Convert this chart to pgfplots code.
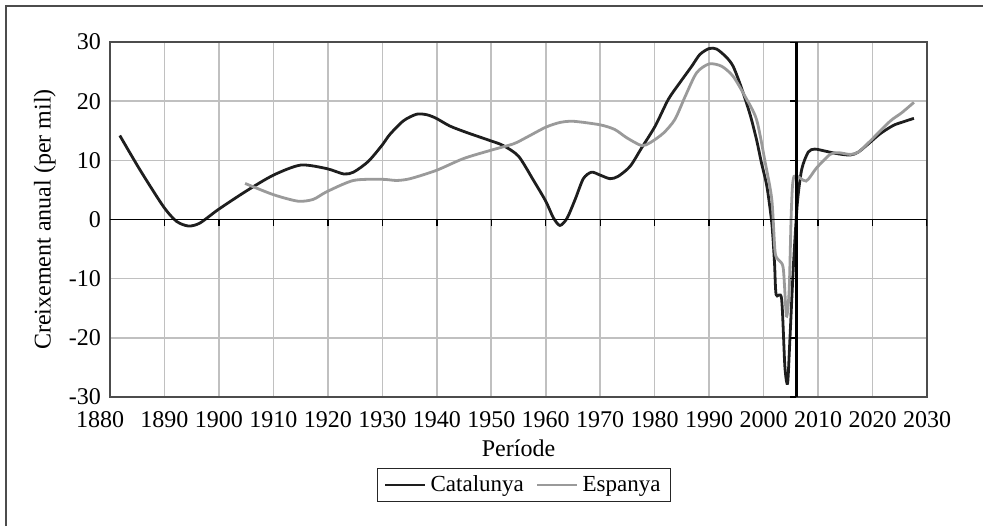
\documentclass[border=0pt]{standalone}
\usepackage{pgfplots}
\pgfplotsset{compat=1.18}
\usepackage{fontspec}
\setmainfont{Liberation Serif}
\definecolor{catc}{HTML}{1E1E1E}
\definecolor{espc}{HTML}{9A9A9A}
\definecolor{gridc}{HTML}{C0C0C0}
\begin{document}
\begin{tikzpicture}
\useasboundingbox (0,0) rectangle (491.5pt,263pt);
\draw[black!70, line width=1pt] (3pt,0) -- (3pt,259.8pt) -- (491.5pt,259.8pt);
\begin{axis}[
  at={(55pt,64.5pt)}, anchor=south west,
  scale only axis, width=408.5pt, height=177.5pt,
  xmin=1880, xmax=2030, ymin=-30, ymax=30,
  xtick={1880,1890,...,2030},
  xticklabels={{\hspace*{-10pt}1880},1890,1900,1910,1920,1930,1940,1950,1960,1970,1980,1990,2000,2010,2020,2030},
  ytick={-30,-20,...,30},
  yticklabels={-30,-20,-10,0,10,20,30},
  major tick length=0pt,
  grid=major,
  major grid style={draw=gridc, line width=0.8pt},
  axis line style={draw=black!70, line width=0.8pt},
  tick label style={font=\fontsize{12}{14}\selectfont},
  xticklabel style={yshift=-3.5pt},
  yticklabel style={xshift=-1pt},
  label style={font=\fontsize{12}{14}\selectfont},
  xlabel={Període},
  ylabel={Creixement anual (per mil)},
  xlabel style={at={(axis description cs:0.5,-0.1437)}, anchor=center},
  ylabel style={at={(axis description cs:-0.0796,0.5)}, anchor=center, rotate=0},
  legend style={at={(0.507,-0.248)}, anchor=center, legend columns=2,
    draw=black!85, line width=0.6pt, font=\fontsize{11.5}{13}\selectfont,
    inner xsep=3pt, inner ysep=1.5pt,
    /tikz/every even column/.append style={column sep=4pt}},
  legend image code/.code={\draw[#1] (0pt,0pt) -- (20pt,0pt);},
  every axis plot/.append style={smooth, tension=0.45, line width=1.4pt},
]
\addplot[catc] coordinates {
(1881.8,14.2)(1885.5,8.4)(1889.8,2.2)(1892.2,-0.3)(1894.4,-1.1)(1896.5,-0.6)
(1899.9,1.7)(1905.0,4.8)(1910.0,7.5)(1915.0,9.2)(1919.8,8.6)(1922.9,7.7)
(1924.7,8.0)(1927.4,9.8)(1929.9,12.5)(1931.4,14.4)(1933.9,16.7)(1936.3,17.8)
(1938.2,17.7)(1939.9,17.1)(1942.4,15.8)(1945.5,14.7)(1949.9,13.3)(1952.2,12.5)
(1955.0,10.7)(1957.7,6.7)(1960.0,3.1)(1961.4,0.3)(1962.6,-1.0)(1963.9,0.2)
(1965.4,3.4)(1966.9,6.9)(1968.4,8.0)(1970.0,7.5)(1971.8,6.9)(1973.3,7.3)
(1975.5,9.0)(1977.6,12.1)(1980.1,15.8)(1982.5,20.3)(1984.6,23.1)(1986.8,25.9)
(1988.3,27.9)(1990.0,28.9)(1991.4,28.8)(1993.2,27.4)(1994.4,25.9)(1995.8,22.6)
(1997.5,17.8)(1998.7,13.5)(1999.6,9.6)(2000.6,5.6)(2001.5,-0.6)(2002.0,-7.3)
(2002.3,-12.7)(2003.3,-13.4)(2003.9,-24.8)(2004.4,-27.7)(2004.8,-20.8)(2005.5,-7.3)
(2006.2,2.8)(2007.0,8.5)(2008.2,11.4)(2009.4,11.9)(2011.6,11.5)(2013.7,11.1)
(2015.9,10.9)(2017.4,11.4)(2019.5,13.0)(2021.4,14.5)(2023.8,15.9)(2025.6,16.5)
(2027.6,17.1)
};
\addlegendentry{Catalunya}
\addplot[espc] coordinates {
(1904.8,6.1)(1910.0,4.2)(1914.5,3.1)(1917.3,3.4)(1919.8,4.7)(1924.7,6.6)
(1929.9,6.8)(1932.6,6.6)(1935.1,6.9)(1939.9,8.3)(1944.9,10.3)(1949.9,11.7)
(1954.1,12.8)(1956.5,13.9)(1960.0,15.6)(1962.6,16.4)(1965.1,16.6)(1970.0,16.0)
(1972.7,15.2)(1974.9,13.8)(1977.6,12.5)(1979.2,13.0)(1981.6,14.6)(1983.7,16.9)
(1985.6,20.8)(1987.7,24.8)(1990.0,26.3)(1992.3,25.9)(1994.4,24.2)(1996.6,20.8)
(1998.7,16.9)(2000.3,9.6)(2001.5,3.4)(2002.1,-5.4)(2002.7,-6.8)(2003.6,-8.2)
(2004.2,-16.3)(2004.7,-11.8)(2005.1,1.7)(2005.6,7.3)(2007.8,6.5)(2009.7,8.7)
(2012.2,11.0)(2013.7,11.3)(2015.9,11.0)(2017.4,11.4)(2019.5,13.2)(2023.2,16.6)
(2025.3,18.0)(2027.6,19.8)
};
\addlegendentry{Espanya}
\draw[black, line width=0.8pt] (axis cs:1880,0) -- (axis cs:2030,0);
\pgfplotsinvokeforeach{1890,1900,...,2030}{
  \draw[black, line width=0.7pt] (axis cs:#1,0) -- ++(0pt,-3pt);
}
\draw[black, line width=1.5pt] (axis cs:2006,-30) -- (axis cs:2006,30);
\pgfplotsinvokeforeach{-30,-20,...,30}{
  \draw[black, line width=0.7pt] (axis cs:2006,#1) -- ++(-3pt,0pt);
}
\end{axis}
\end{tikzpicture}
\end{document}
